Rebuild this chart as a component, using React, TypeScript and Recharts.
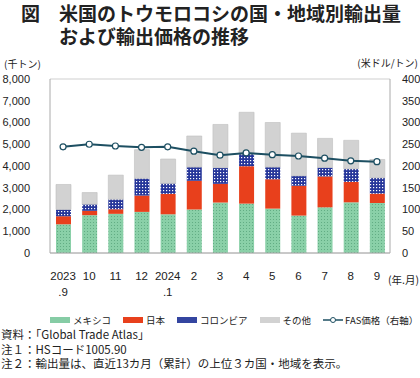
import { ComposedChart, Bar, Line, XAxis, YAxis, CartesianGrid } from "recharts";

const months = ["2023.9", "10", "11", "12", "2024.1", "2", "3", "4", "5", "6", "7", "8", "9"];
const tickTop = ["2023", "10", "11", "12", "2024", "2", "3", "4", "5", "6", "7", "8", "9"];
const tickSub = [".9", "", "", "", ".1", "", "", "", "", "", "", "", ""];
const mexico = [1320, 1740, 1800, 1890, 1780, 2000, 2320, 2270, 2040, 1720, 2100, 2330, 2300];
const japan = [370, 200, 210, 750, 940, 1320, 860, 1720, 1350, 1370, 1420, 940, 430];
const colombia = [310, 300, 460, 790, 480, 630, 740, 560, 560, 460, 410, 600, 730];
const others = [1150, 540, 1110, 1320, 1120, 1430, 1990, 1920, 2050, 1960, 1340, 1310, 840];
const fas = [244, 250, 246, 243, 244, 234, 225, 230, 226, 223, 218, 212, 210];
const leftTicks = [0, 1000, 2000, 3000, 4000, 5000, 6000, 7000, 8000];
const rightTicks = [0, 50, 100, 150, 200, 250, 300, 350, 400];

const data = months.map((m, i) => ({
  m, i, mexico: mexico[i], japan: japan[i], colombia: colombia[i], others: others[i], fas: fas[i],
}));

const FONT = '"Liberation Sans", Arial, "Noto Sans CJK JP", sans-serif';
const JP = '"Noto Sans CJK JP", "Liberation Sans", sans-serif';
const TEAL = "#1d4f62";

const XTick = (p: any) => {
  const i = p.payload.index;
  return (
    <g>
      <text x={p.x} y={p.y + 19} textAnchor="middle" fontSize={11.5} fill="#222" fontFamily={FONT}>{tickTop[i]}</text>
      {tickSub[i] && <text x={p.x} y={p.y + 35} textAnchor="middle" fontSize={11.5} fill="#222" fontFamily={FONT}>{tickSub[i]}</text>}
    </g>
  );
};

const legendItems = [
  { name: "メキシコ", kind: "green" },
  { name: "日本", kind: "red" },
  { name: "コロンビア", kind: "blue" },
  { name: "その他", kind: "gray" },
  { name: "FAS価格（右軸）", kind: "line" },
];

function Swatch({ kind }: { kind: string }) {
  if (kind === "line") {
    return (
      <svg width={20} height={8} style={{ marginRight: 2 }}>
        <line x1={0} y1={4} x2={20} y2={4} stroke={TEAL} strokeWidth={1.5} />
        <circle cx={10} cy={4} r={2.5} fill="#fff" stroke={TEAL} strokeWidth={1} />
      </svg>
    );
  }
  const bg: any = {
    green: "#86cca5",
    red: "#e8401c",
    blue: "#3445a0",
    gray: "#d2d2d2",
  };
  return <span style={{ display: "inline-block", width: 20, height: 6, background: bg[kind], marginRight: 3 }} />;
}

export default function App() {
  return (
    <div style={{ position: "absolute", left: 0, top: 0, width: 420, height: 378, background: "#fff", fontFamily: JP, color: "#222" }}>
      <div style={{ position: "absolute", left: 21, top: 1, fontSize: 19, fontWeight: 700, lineHeight: "23px", whiteSpace: "pre" }}>
        {"図　米国のトウモロコシの国・地域別輸出量\n　　および輸出価格の推移"}
      </div>
      <div style={{ position: "absolute", left: 4, top: 58, fontSize: 10, lineHeight: "12px", whiteSpace: "nowrap" }}>(千トン)</div>
      <div style={{ position: "absolute", right: 2, top: 57, fontSize: 10, lineHeight: "12px", whiteSpace: "nowrap" }}>(米ドル/トン)</div>

      <div style={{ position: "absolute", left: 0, top: 0 }}>
        <ComposedChart width={420} height={310} data={data} margin={{ top: 79, right: 0, bottom: 0, left: 0 }}>
          <defs>
            <pattern id="pGreen" width={3} height={3} patternUnits="userSpaceOnUse">
              <rect width={3} height={3} fill="#8ad0a8" />
              <rect x={0} y={0} width={1} height={1} fill="#62ad84" />
            </pattern>
            <pattern id="pBlue" width={3} height={3} patternUnits="userSpaceOnUse">
              <rect width={3} height={3} fill="#26369a" />
              <rect x={1} y={1} width={1.2} height={1.2} fill="#ffffff" />
            </pattern>
          </defs>
          <CartesianGrid vertical={false} stroke="#cfcfcf" />
          <XAxis dataKey="m" tick={<XTick />} tickLine={false} axisLine={{ stroke: "#aaa" }} height={57} interval={0} />
          <YAxis yAxisId="l" domain={[0, 8000]} ticks={leftTicks} width={50} tickLine={false}
            axisLine={{ stroke: "#aaa" }} tickMargin={14}
            tickFormatter={(v: number) => v.toLocaleString("en-US")}
            tick={{ fontSize: 11, fill: "#222", fontFamily: FONT }} />
          <YAxis yAxisId="r" orientation="right" domain={[0, 400]} ticks={rightTicks} width={30} tickLine={false}
            axisLine={{ stroke: "#aaa" }} tickMargin={6}
            tick={{ fontSize: 11, fill: "#222", fontFamily: FONT, textAnchor: "start" }} />
          <Bar yAxisId="l" dataKey="mexico" stackId="s" fill="url(#pGreen)" barSize={15} isAnimationActive={false} />
          <Bar yAxisId="l" dataKey="japan" stackId="s" fill="#e8401c" barSize={15} isAnimationActive={false} />
          <Bar yAxisId="l" dataKey="colombia" stackId="s" fill="url(#pBlue)" barSize={15} isAnimationActive={false} />
          <Bar yAxisId="l" dataKey="others" stackId="s" fill="#d2d2d2" stroke="#bdbdbd" strokeWidth={0.6} barSize={15} isAnimationActive={false} />
          <Line yAxisId="r" dataKey="fas" stroke={TEAL} strokeWidth={2}
            dot={{ r: 3, fill: "#fff", stroke: TEAL, strokeWidth: 1.2 }} isAnimationActive={false} />
        </ComposedChart>
      </div>
      <div style={{ position: "absolute", right: 1, top: 274, fontSize: 10.5, lineHeight: "12px", whiteSpace: "nowrap" }}>(年.月)</div>

      <div style={{ position: "absolute", left: 50, top: 313, display: "flex", alignItems: "center", fontSize: 9.5, whiteSpace: "nowrap" }}>
        {legendItems.map((it) => (
          <span key={it.name} style={{ display: "inline-flex", alignItems: "center", marginRight: 12 }}>
            <Swatch kind={it.kind} />
            {it.name}
          </span>
        ))}
      </div>

      <div style={{ position: "absolute", left: 1, top: 327, fontSize: 11.5, lineHeight: "14.5px", whiteSpace: "nowrap" }}>
        <div>資料：「Global Trade Atlas」</div>
        <div>注１：HSコード1005.90</div>
        <div>注２：輸出量は、直近13カ月（累計）の上位３カ国・地域を表示。</div>
      </div>
    </div>
  );
}
